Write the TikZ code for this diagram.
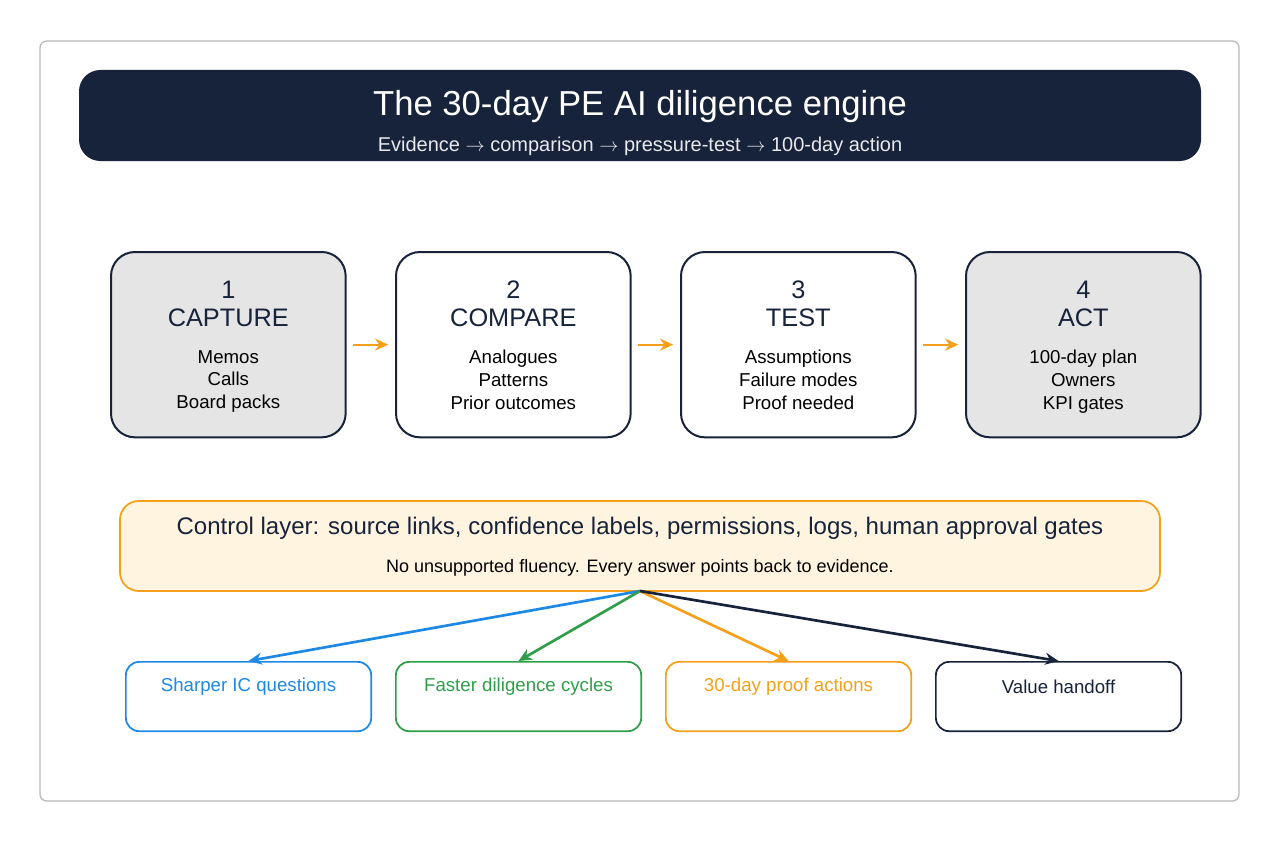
\documentclass[tikz,border=0pt]{standalone}
\usepackage{fontspec}
\setmainfont{Liberation Sans}
\usetikzlibrary{arrows.meta, positioning}
\definecolor{navy}{HTML}{17223B}
\definecolor{amber}{HTML}{F5A01A}
\definecolor{skyblue}{HTML}{1E88E5}
\definecolor{leaf}{HTML}{2E9E48}
\definecolor{cream}{HTML}{FFF4E0}
\definecolor{paleg}{HTML}{E5E5E5}
\tikzset{>={Stealth[length=10pt,width=9pt]}, font=\fontsize{14}{17}\selectfont}
\tikzset{stage/.style={draw=navy, line width=1.5pt, rounded corners=18pt,
    minimum width=176pt, minimum height=139pt, anchor=north west},
  outcome/.style={draw=#1, text=#1, line width=1.3pt, rounded corners=10pt,
    minimum width=184pt, minimum height=52pt, anchor=north west,
    text depth=0pt, align=center}}

\begin{document}
\begin{tikzpicture}[x=0.75pt, y=-0.75pt]
      \useasboundingbox (0,0) rectangle (1280,842);
      \draw[gray!55, line width=1pt, rounded corners=5pt] (40,41) rectangle (1239,801);
      \fill[navy, rounded corners=16pt] (79,70) rectangle (1201,161);
      \node[white, font=\fontsize{26}{30}\selectfont] (title) at (640,107) {The 30-day PE AI diligence engine};
      \node[white!90!navy, font=\fontsize{15}{18}\selectfont] (sub) at (640,146)
        {Evidence $\rightarrow$ comparison $\rightarrow$ pressure-test $\rightarrow$ 100-day action};
      % stages
      \node[stage, fill=paleg] (capture) at (110,251) {};
      \node[stage, fill=white] (compare) at (395,251) {};
      \node[stage, fill=white] (test) at (680,251) {};
      \node[stage, fill=paleg] (act) at (965,251) {};
      \foreach \n/\k/\t/\a/\b/\c in {capture/1/CAPTURE/Memos/Calls/Board packs,
          compare/2/COMPARE/Analogues/Patterns/Prior outcomes,
          test/3/TEST/Assumptions/Failure modes/Proof needed,
          act/4/ACT/100-day plan/Owners/KPI gates} {
        \node[navy, font=\fontsize{19}{21}\selectfont, align=center, anchor=north]
          at ([yshift=-19pt]\n.north) {\k\\\t};
        \node[black, align=center, anchor=north]
          at ([yshift=-71pt]\n.north) {\a\\\b\\\c};
      }
      \foreach \p/\q in {capture/compare, compare/test, test/act}
        \draw[->, amber, line width=1.5pt] ([xshift=5pt]\p.east) -- ([xshift=-5pt]\q.west);
      % control layer
      \draw[amber, fill=cream, line width=1.3pt, rounded corners=14pt] (120,501) rectangle (1160,591);
      \node[navy, font=\fontsize{18}{21}\selectfont] (ctrl) at (640,528)
        {Control layer: source links, confidence labels, permissions, logs, human approval gates};
      \node[black, font=\fontsize{13.5}{16}\selectfont] (note) at (640,568)
        {No unsupported fluency. Every answer points back to evidence.};
      \coordinate (hub) at (640,591);
      % outcomes
      \node[outcome=skyblue] (sharper) at (125,661) {};
      \node[outcome=leaf] (faster) at (395,661) {};
      \node[outcome=amber] (proof) at (665,661) {};
      \node[outcome=navy] (handoff) at (935,661) {};
      \node[skyblue] at ([yshift=-19pt]sharper.north) {Sharper IC questions};
      \node[leaf] at ([yshift=-19pt]faster.north) {Faster diligence cycles};
      \node[amber] at ([yshift=-19pt]proof.north) {30-day proof actions};
      \node[navy] at ([yshift=-19pt]handoff.north) {Value handoff};
      \draw[->, skyblue, line width=2pt] (hub) -- (sharper.north);
      \draw[->, leaf, line width=2pt] (hub) -- (faster.north);
      \draw[->, amber, line width=2pt] (hub) -- (proof.north);
      \draw[->, navy, line width=2pt] (hub) -- (handoff.north);
\end{tikzpicture}
\end{document}
